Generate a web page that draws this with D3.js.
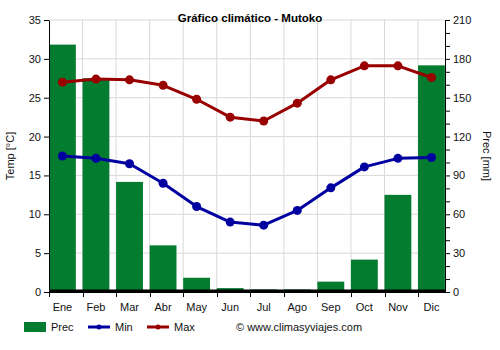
<!DOCTYPE html>
<html><head><meta charset="utf-8">
<script src="https://cdn.jsdelivr.net/npm/d3@7"></script>
<style>body{margin:0;background:#fff}svg{display:block;font-family:"Liberation Sans",Arial,sans-serif}</style>
</head><body>
<svg id="c" width="500" height="350"></svg>
<script>
const months = ["Ene","Feb","Mar","Abr","May","Jun","Jul","Ago","Sep","Oct","Nov","Dic"];
const prec = [191,165,85,36,11,3,2,2,8,25,75,175];
const tmin = [17.5,17.2,16.5,14,11,9,8.6,10.5,13.4,16.1,17.2,17.3];
const tmax = [27,27.4,27.3,26.6,24.8,22.5,22,24.3,27.3,29.1,29.1,27.6];
const tempTicks = [0,5,10,15,20,25,30,35];
const precTicks = [0,30,60,90,120,150,180,210];

const svg = d3.select("#c");
const L = 49, R = 445, T = 20, B = 292;
const x = d3.scaleBand().domain(months).range([L, L + 12*33.55]).padding(0);
const bw = x.bandwidth();
const yT = d3.scaleLinear().domain([0,35]).range([B,T]);
const yP = d3.scaleLinear().domain([0,210]).range([B,T]);
const green = "#037c2f", blue = "#0000a0", red = "#990000";

// grid
const g = svg.append("g");
g.selectAll("line.h").data(tempTicks.slice(1)).join("line")
  .attr("x1", L).attr("x2", R).attr("y1", d => yT(d)).attr("y2", d => yT(d))
  .attr("stroke", "#d9d9d9").attr("stroke-width", 1);
g.selectAll("line.v").data(months.slice(1)).join("line")
  .attr("x1", d => x(d)).attr("x2", d => x(d)).attr("y1", T).attr("y2", B)
  .attr("stroke", "#d9d9d9").attr("stroke-width", 1);

// bars
svg.append("g").selectAll("rect").data(prec).join("rect")
  .attr("x", (d,i) => x(months[i])).attr("width", (d,i) => Math.min(bw*0.8, R - x(months[i])))
  .attr("y", d => yP(d)).attr("height", d => B - yP(d)).attr("fill", green);

// black baseline strip
svg.append("rect").attr("x", L).attr("y", B - 2.5).attr("width", R - L).attr("height", 2.5).attr("fill", "#000");

// lines
const cx = i => x(months[i]) + bw*0.4;
const line = d3.line().x((d,i) => cx(i)).y(d => yT(d));
[[tmin, blue],[tmax, red]].forEach(([arr, col]) => {
  svg.append("path").datum(arr).attr("d", line).attr("fill","none").attr("stroke", col).attr("stroke-width", 3).attr("stroke-linejoin","round");
  svg.append("g").selectAll("circle").data(arr).join("circle")
    .attr("cx", (d,i) => cx(i)).attr("cy", d => yT(d)).attr("r", 4.5).attr("fill", col);
});

// axes
const tc = "#111";
const axL = svg.append("g").attr("transform", `translate(${L},0)`)
  .call(d3.axisLeft(yT).tickValues(tempTicks).tickSize(5).tickSizeOuter(0));
axL.select(".domain").attr("stroke", "#000");
axL.selectAll("text").attr("font-size", 11).attr("fill", tc).attr("font-family", "Liberation Sans, Arial");

const axR = svg.append("g").attr("transform", `translate(${R},0)`)
  .call(d3.axisRight(yP).tickValues(d3.range(0, 211, 10)).tickSize(5).tickSizeOuter(0)
    .tickFormat(d => d % 30 === 0 ? d : ""));
axR.select(".domain").attr("stroke", "#000");
axR.selectAll("text").attr("font-size", 11).attr("fill", tc).attr("font-family", "Liberation Sans, Arial");

// bottom axis
svg.append("line").attr("x1", L).attr("x2", R).attr("y1", B+0.5).attr("y2", B+0.5).attr("stroke", "#000");
svg.append("g").selectAll("line").data(months).join("line")
  .attr("x1", d => Math.round(x(d))+0.5).attr("x2", d => Math.round(x(d))+0.5)
  .attr("y1", B).attr("y2", B+5).attr("stroke", "#000");
svg.append("g").selectAll("text").data(months).join("text")
  .attr("x", (d,i) => cx(i)).attr("y", B+19).attr("text-anchor","middle")
  .attr("font-size", 11).attr("fill", tc).text(d => d);

// titles
svg.append("text").attr("x", 250).attr("y", 22).attr("text-anchor","middle")
  .attr("font-size", 11.5).attr("font-weight","bold").attr("fill","#000").text("Gráfico climático - Mutoko");
svg.append("text").attr("transform", `translate(14,${(T+B)/2}) rotate(-90)`).attr("text-anchor","middle")
  .attr("font-size", 11).attr("fill", tc).text("Temp [°C]");
svg.append("text").attr("transform", `translate(483,${(T+B)/2}) rotate(90)`).attr("text-anchor","middle")
  .attr("font-size", 11).attr("fill", tc).text("Prec [mm]");

// legend
const ly = 327;
const lg = svg.append("g");
lg.append("rect").attr("x", 24).attr("y", ly-5).attr("width", 22).attr("height", 10).attr("fill", green);
lg.append("text").attr("x", 51).attr("y", ly+4).attr("font-size", 11).attr("fill", tc).text("Prec");
[[88, blue, "Min"],[147, red, "Max"]].forEach(([lx, col, t]) => {
  lg.append("line").attr("x1", lx).attr("x2", lx+22).attr("y1", ly).attr("y2", ly).attr("stroke", col).attr("stroke-width", 3);
  lg.append("circle").attr("cx", lx+11).attr("cy", ly).attr("r", 2.5).attr("fill", col);
  lg.append("text").attr("x", lx+27).attr("y", ly+4).attr("font-size", 11).attr("fill", tc).text(t);
});
lg.append("text").attr("x", 236).attr("y", ly+4).attr("font-size", 11).attr("fill", tc).text("© www.climasyviajes.com");
</script>
</body></html>
